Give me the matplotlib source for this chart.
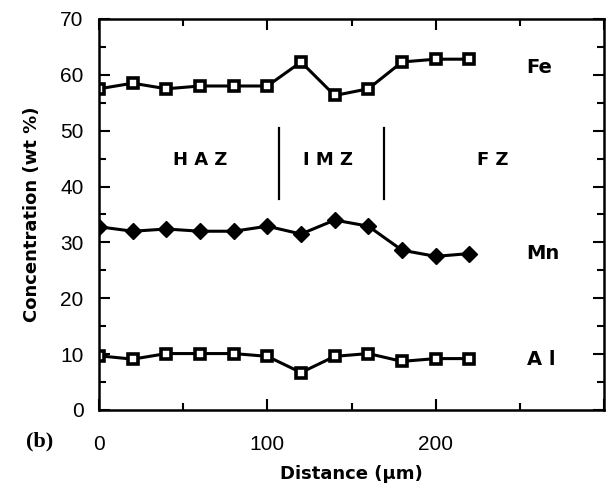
import numpy as np
import matplotlib
matplotlib.use('Agg')
import matplotlib.pyplot as plt
from matplotlib.ticker import MultipleLocator, FixedLocator, FixedFormatter

# Data (distance in um, concentration in wt %)
distance = [0, 20, 40, 60, 80, 100, 120, 140, 160, 180, 200, 220]
fe = [57.5, 58.5, 57.5, 58, 58, 58, 62.3, 56.3, 57.5, 62.3, 62.8, 62.8]
mn = [32.8, 32.0, 32.4, 32.0, 32.0, 32.9, 31.5, 34.0, 32.9, 28.6, 27.5, 28.0]
al = [9.7, 9.1, 10.1, 10.1, 10.1, 9.6, 6.7, 9.6, 10.1, 8.7, 9.2, 9.2]

zone_bounds = [107, 169]
zone_labels = ['HAZ', 'IMZ', 'FZ']
zone_x = [60, 136, 234]
element_labels = ['Fe', 'Mn', 'A l']
element_y = [61.3, 28.0, 9.0]

x_ticks = [0, 100, 200, 300]
x_tick_labels = ['0', '100', '200', '']

fig = plt.figure(figsize=(6.12, 4.9), dpi=100)
ax = fig.add_axes([0.1618, 0.1633, 0.8252, 0.798])

sq = dict(marker='s', markersize=7.5, markerfacecolor='white',
          markeredgecolor='black', markeredgewidth=2.6)
ax.plot(distance, fe, color='black', lw=2.2, **sq)
ax.plot(distance, al, color='black', lw=2.2, **sq)
ax.plot(distance, mn, color='black', lw=2.2, marker='D', markersize=8,
        markerfacecolor='black', markeredgecolor='black')

# zone boundaries
for xb in zone_bounds:
    ax.plot([xb, xb], [37.8, 50.5], color='black', lw=1.6)

for lab, xz in zip(zone_labels, zone_x):
    ax.text(xz, 44.8, ' '.join(lab), ha='center', va='center',
            fontsize=13, fontweight='bold', family='DejaVu Sans')

# element labels at the right end of each line
for lab, ye in zip(element_labels, element_y):
    ax.text(254, ye, lab, ha='left', va='center', fontsize=14,
            fontweight='bold', family='DejaVu Sans')

ax.set_xlim(0, 300)
ax.set_ylim(0, 70)
ax.xaxis.set_major_locator(FixedLocator(x_ticks))
ax.xaxis.set_major_formatter(FixedFormatter(x_tick_labels))
ax.xaxis.set_minor_locator(MultipleLocator(50))
ax.yaxis.set_major_locator(MultipleLocator(10))
ax.yaxis.set_minor_locator(MultipleLocator(5))
ax.tick_params(which='both', direction='in', top=True, right=True, width=1.5)
ax.tick_params(which='major', length=8, labelsize=15)
ax.tick_params(which='minor', length=5)
ax.tick_params(axis='x', which='major', pad=18)
ax.tick_params(axis='y', which='major', pad=11)
for lbl in ax.get_xticklabels() + ax.get_yticklabels():
    lbl.set_family('Liberation Sans')
for s in ax.spines.values():
    s.set_linewidth(1.8)

ax.set_xlabel('Distance (µm)', fontsize=13, fontweight='bold', labelpad=8)
ax.set_ylabel('Concentration (wt %)', fontsize=13, fontweight='bold', labelpad=14)

fig.text(0.065, 0.1, '(b)', fontsize=16, fontweight='bold', family='Liberation Serif',
         ha='center', va='center')

fig.savefig('out.png', dpi=100)
